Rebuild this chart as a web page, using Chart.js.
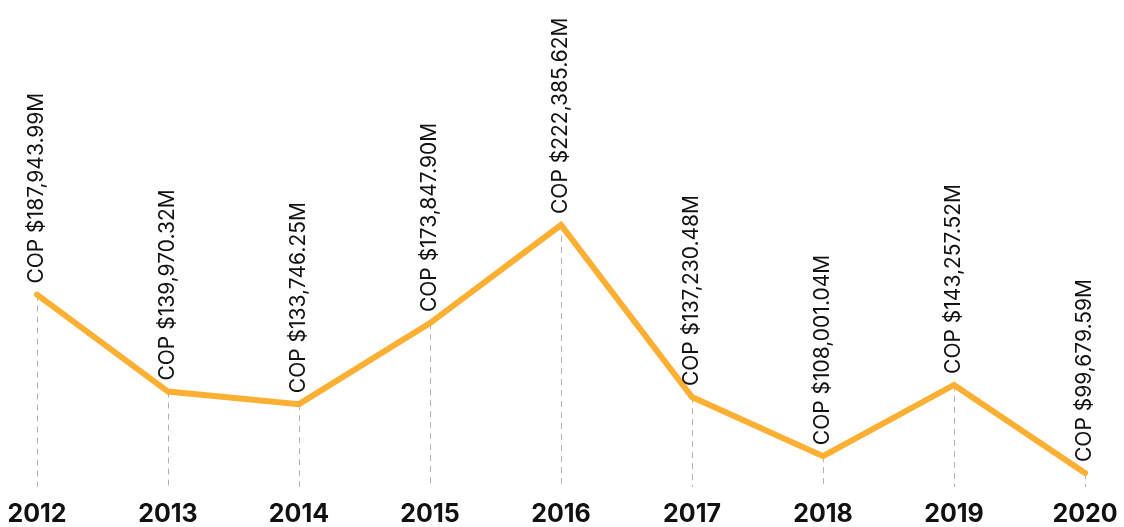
<!DOCTYPE html>
<html>
<head>
<meta charset="utf-8">
<script src="https://cdn.jsdelivr.net/npm/chart.js@4.4.1/dist/chart.umd.min.js"></script>
<style>
  html, body { margin: 0; padding: 0; background: #ffffff; }
  #wrap { width: 1124px; height: 527px; position: relative; }
</style>
</head>
<body>
<div id="wrap"><canvas id="lineChart"></canvas></div>
<script>
// Data
const years = ['2012', '2013', '2014', '2015', '2016', '2017', '2018', '2019', '2020'];
const values = [187943.99, 139970.32, 133746.25, 173847.90, 222385.62, 137230.48, 108001.04, 143257.52, 99679.59];
const valueLabels = [
    'COP $187,943.99M', 'COP $139,970.32M', 'COP $133,746.25M',
    'COP $173,847.90M', 'COP $222,385.62M', 'COP $137,230.48M',
    'COP $108,001.04M', 'COP $143,257.52M', 'COP $99,679.59M'
];

const lineColor = '#FBB034';

// dashed drop lines from each point to the bottom of the plot area
const dropLines = {
    id: 'dropLines',
    beforeDatasetsDraw(chart) {
        const c = chart.ctx;
        const bottom = chart.chartArea.bottom;
        const meta = chart.getDatasetMeta(0);
        c.save();
        c.strokeStyle = '#b0b0b0';
        c.lineWidth = 1;
        c.setLineDash([6, 5]);
        meta.data.forEach(pt => {
            const x = Math.round(pt.x) + 0.5;
            c.beginPath();
            c.moveTo(x, pt.y);
            c.lineTo(x, bottom);
            c.stroke();
        });
        c.restore();
    }
};

// vertical value labels above each point
const valueText = {
    id: 'valueText',
    afterDatasetsDraw(chart) {
        const c = chart.ctx;
        const meta = chart.getDatasetMeta(0);
        c.save();
        c.fillStyle = '#111111';
        c.font = '21px Inter, "Liberation Sans", sans-serif';
        c.textAlign = 'left';
        c.textBaseline = 'middle';
        meta.data.forEach((pt, i) => {
            c.save();
            c.translate(pt.x, pt.y - 11);
            c.rotate(-Math.PI / 2);
            c.fillText(valueLabels[i], 0, 0);
            c.restore();
        });
        c.restore();
    }
};

new Chart(document.getElementById('lineChart'), {
    type: 'line',
    data: {
        labels: years,
        datasets: [{
            data: values,
            borderColor: lineColor,
            borderWidth: 6,
            borderCapStyle: 'round',
            borderJoinStyle: 'miter',
            pointRadius: 0,
            tension: 0,
            fill: false
        }]
    },
    options: {
        responsive: true,
        maintainAspectRatio: false,
        animation: false,
        layout: { padding: { left: 37, right: 39, top: 0, bottom: 0 } },
        plugins: {
            legend: { display: false },
            tooltip: { enabled: false }
        },
        scales: {
            x: {
                offset: false,
                grid: { display: false, drawTicks: false },
                border: { display: false },
                afterFit(scale) {
                    // fixed axis band, label overflow handled by layout padding
                    scale.height = 40;
                    scale.paddingLeft = 0;
                    scale.paddingRight = 0;
                },
                ticks: {
                    color: '#111111',
                    padding: 14,
                    maxRotation: 0,
                    autoSkip: false,
                    font: { family: 'Inter', size: 25, weight: 'bold', lineHeight: 1.1 }
                }
            },
            y: {
                display: false,
                min: 92750,
                max: 333700
            }
        }
    },
    plugins: [dropLines, valueText]
});
</script>
</body>
</html>
